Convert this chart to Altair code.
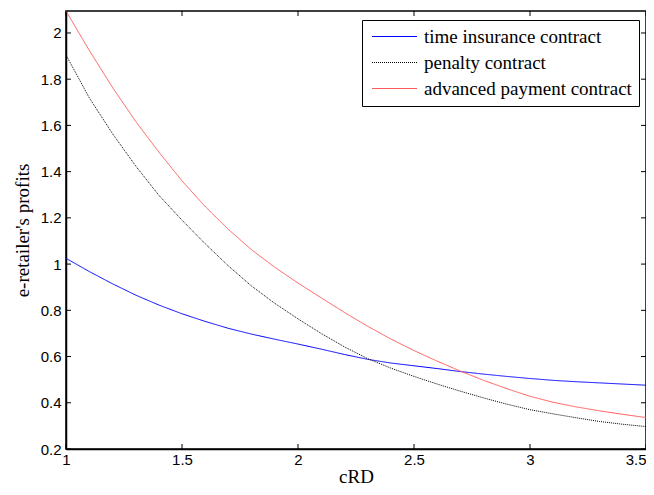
import altair as alt
import pandas as pd

crd = [1.0, 1.1, 1.2, 1.3, 1.4, 1.5, 1.6, 1.7, 1.8, 1.9, 2.0, 2.1, 2.2, 2.3, 2.4,
       2.5, 2.6, 2.7, 2.8, 2.9, 3.0, 3.1, 3.2, 3.3, 3.4, 3.5]
time_insurance = [1.025, 0.968, 0.915, 0.866, 0.823, 0.785, 0.752, 0.722, 0.697, 0.675,
                  0.654, 0.632, 0.609, 0.588, 0.572, 0.560, 0.548, 0.535, 0.524, 0.514,
                  0.505, 0.497, 0.491, 0.486, 0.481, 0.476]
penalty = [1.905, 1.720, 1.565, 1.425, 1.298, 1.190, 1.088, 0.992, 0.905, 0.830,
           0.763, 0.700, 0.642, 0.591, 0.550, 0.514, 0.481, 0.450, 0.421, 0.394,
           0.370, 0.352, 0.335, 0.319, 0.307, 0.297]
advanced = [2.095, 1.925, 1.765, 1.618, 1.485, 1.360, 1.249, 1.150, 1.062, 0.986,
            0.918, 0.854, 0.791, 0.731, 0.676, 0.626, 0.580, 0.537, 0.497, 0.461,
            0.428, 0.402, 0.382, 0.365, 0.350, 0.336]

series_names = ["time insurance contract", "penalty contract", "advanced payment contract"]
series_colors = ["#0000ff", "#000000", "#ff5a5a"]
series_dash = [[1, 0], [1, 1], [1, 0]]

x_ticks = [1, 1.5, 2, 2.5, 3, 3.5]
y_ticks = [0.2, 0.4, 0.6, 0.8, 1.0, 1.2, 1.4, 1.6, 1.8, 2.0]

rows = []
for name, vals in zip(series_names, [time_insurance, penalty, advanced]):
    for x, y in zip(crd, vals):
        rows.append({"cRD": x, "profit": y, "contract": name})
df = pd.DataFrame(rows)

W, H = 580, 438
xscale = alt.Scale(domain=[1, 3.5], nice=False, zero=False)
yscale = alt.Scale(domain=[0.2, 2.095], nice=False, zero=False)
axis_style = dict(tickSize=0, labelFlush=False, grid=False, domainColor="black",
                  domainWidth=1.5, labelFont="Liberation Sans", labelFontSize=15,
                  labelColor="black", titleFont="Liberation Serif", titleFontSize=19,
                  titleFontWeight="normal", titleColor="black")
xaxis = alt.Axis(title="cRD", values=x_ticks, format="~g", labelPadding=3,
                 titlePadding=0,
                 labelAlign=alt.ExprRef(expr="datum.value >= 3.5 ? 'right' : 'center'"),
                 **axis_style)
yaxis = alt.Axis(title="e-retailer's profits", values=y_ticks, format="~g",
                 labelPadding=5, titlePadding=8, **axis_style)

lines = alt.Chart(df).mark_line(strokeWidth=1, clip=True).encode(
    x=alt.X("cRD:Q", scale=xscale, axis=xaxis),
    y=alt.Y("profit:Q", scale=yscale, axis=yaxis),
    color=alt.Color("contract:N",
                    scale=alt.Scale(domain=series_names, range=series_colors),
                    sort=series_names,
                    legend=alt.Legend(title=None, orient="none", legendX=296, legendY=9,
                                      symbolType="M-3,0H3", symbolSize=225,
                                      symbolOffset=16, symbolStrokeWidth=1,
                                      labelFontSize=19,
                                      labelFont="Liberation Serif", labelColor="black",
                                      strokeColor="black", fillColor="white",
                                      padding=7, rowPadding=6, labelOffset=20,
                                      labelLimit=300)),
    strokeDash=alt.StrokeDash("contract:N",
                              scale=alt.Scale(domain=series_names, range=series_dash),
                              sort=series_names, legend=None),
)

xt = pd.DataFrame({"cRD": x_ticks})
yt = pd.DataFrame({"profit": y_ticks})
tick_style = dict(color="black", strokeWidth=1)
xb = alt.Chart(xt).mark_rule(**tick_style).encode(
    x=alt.X("cRD:Q", scale=xscale, axis=xaxis), y=alt.value(H), y2=alt.value(H - 5))
xtop = alt.Chart(xt).mark_rule(**tick_style).encode(
    x=alt.X("cRD:Q", scale=xscale, axis=xaxis), y=alt.value(0), y2=alt.value(5))
yl = alt.Chart(yt).mark_rule(**tick_style).encode(
    y=alt.Y("profit:Q", scale=yscale, axis=yaxis), x=alt.value(0), x2=alt.value(5))
yr = alt.Chart(yt).mark_rule(**tick_style).encode(
    y=alt.Y("profit:Q", scale=yscale, axis=yaxis), x=alt.value(W - 5), x2=alt.value(W))

chart = alt.layer(lines, xb, xtop, yl, yr).properties(
    width=W, height=H,
    background="white",
    autosize=alt.AutoSizeParams(type="none"),
    padding={"left": 58, "top": 3, "right": 0, "bottom": 38},
).configure_view(stroke="black", strokeWidth=1.5)

chart.save("out.html", embed_options={"renderer": "svg", "actions": False})
